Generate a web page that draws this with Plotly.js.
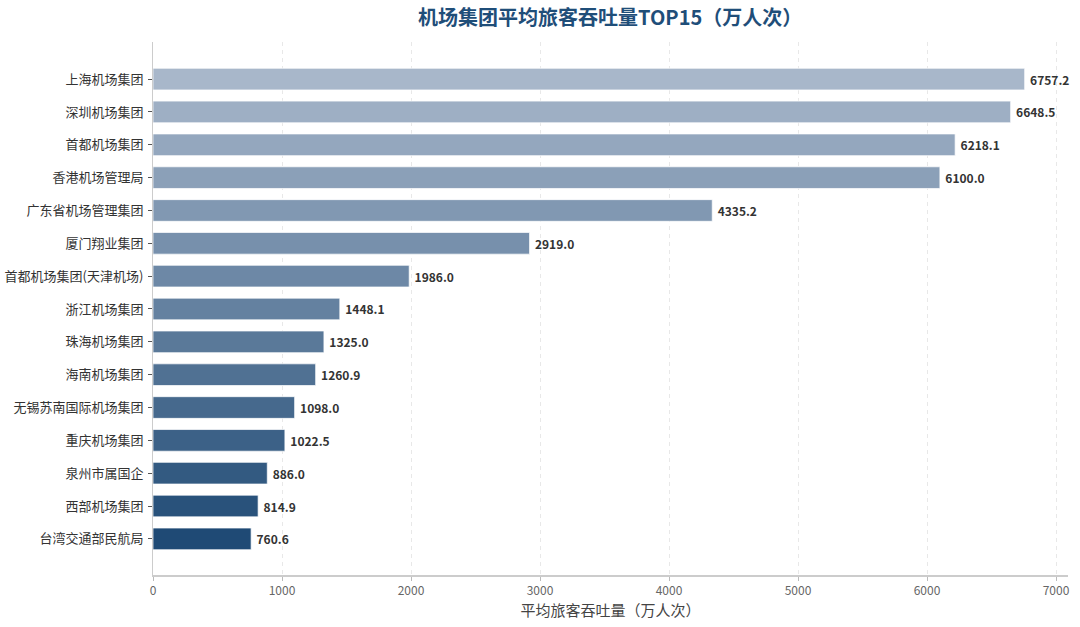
<!DOCTYPE html>
<html><head><meta charset="utf-8">
<script src="https://cdn.plot.ly/plotly-3.0.1.min.js"></script>
<style>html,body{margin:0;padding:0;background:#fff}#chart{width:1080px;height:627px}</style>
</head><body><div id="chart"></div>
<script>
const categories = ["上海机场集团","深圳机场集团","首都机场集团","香港机场管理局","广东省机场管理集团","厦门翔业集团","首都机场集团(天津机场)","浙江机场集团","珠海机场集团","海南机场集团","无锡苏南国际机场集团","重庆机场集团","泉州市属国企","西部机场集团","台湾交通部民航局"];
const values = [6757.2,6648.5,6218.1,6100.0,4335.2,2919.0,1986.0,1448.1,1325.0,1260.9,1098.0,1022.5,886.0,814.9,760.6];
const xTicks = [0,1000,2000,3000,4000,5000,6000,7000];

const c0=[168,183,202], c1=[31,74,117];
const n = categories.length;
const colors = categories.map((_,i)=>{
  const t = i/(n-1);
  const c = c0.map((v,k)=>Math.round(v+(c1[k]-v)*t));
  return `rgb(${c[0]},${c[1]},${c[2]})`;
});
const font = "'Noto Sans CJK SC','Noto Sans',sans-serif";
const trace = {
  type:'bar', orientation:'h', x:values, y:categories,
  marker:{color:colors, line:{color:'rgba(255,255,255,0.7)', width:1}},
  width:0.66,
  text:values.map(v=>'\u2009'+v.toFixed(1)), textposition:'outside',
  textfont:{family:font, size:12, color:'#333', weight:'bold'},
  cliponaxis:false, hoverinfo:'none'
};
const layout = {
  width:1080, height:627,
  margin:{l:153, r:12, t:42, b:52},
  paper_bgcolor:'#fff', plot_bgcolor:'#fff',
  title:{text:'<b>机场集团平均旅客吞吐量TOP15（万人次）</b>', x:0.565, xanchor:'center', y:0.972, yanchor:'middle',
    font:{family:font, size:20, color:'#1f4e79'}},
  xaxis:{range:[0,7093], tickvals:xTicks, ticktext:xTicks.map(String),
    showgrid:true, gridcolor:'#e8e8e8', griddash:'4px,4px', gridwidth:1,
    zeroline:false, showline:true, linecolor:'#cccccc', linewidth:2,
    ticks:'outside', ticklen:4, tickcolor:'#bbb',
    tickfont:{family:font, size:12, color:'#666'},
    title:{text:'平均旅客吞吐量（万人次）', font:{family:font, size:15, color:'#444'}, standoff:8}},
  yaxis:{type:'category', categoryorder:'array', categoryarray:categories,
    range:[15.1,-1.13], showgrid:false, zeroline:false,
    showline:true, linecolor:'#cccccc', linewidth:1,
    ticks:'outside', ticklen:4, tickcolor:'#555', ticklabelstandoff:2,
    tickfont:{family:font, size:13, color:'#333'}},
  showlegend:false, bargap:0.34
};
Plotly.newPlot('chart',[trace],layout,{displayModeBar:false,staticPlot:true});
</script></body></html>
